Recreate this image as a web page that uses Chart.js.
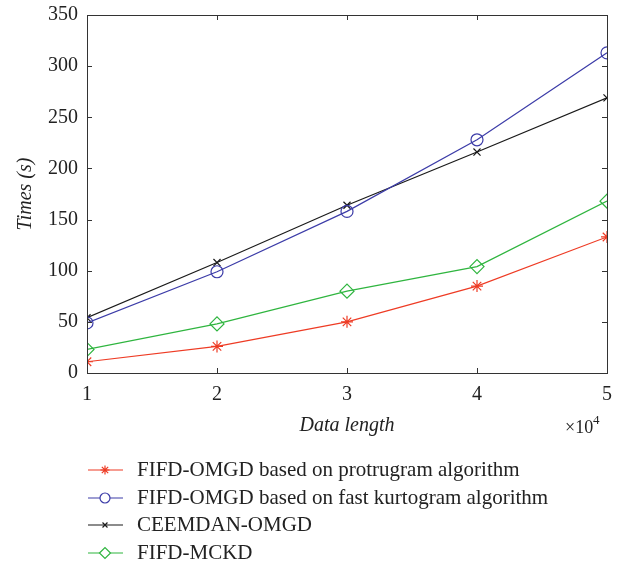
<!DOCTYPE html>
<html>
<head>
<meta charset="utf-8">
<script src="https://cdn.jsdelivr.net/npm/chart.js@4.4.1/dist/chart.umd.min.js"></script>
<style>
  html, body { margin: 0; padding: 0; background: #fff; }
  #wrap { width: 621px; height: 565px; position: relative; }
</style>
</head>
<body>
<div id="wrap"><canvas id="chartTimes"></canvas></div>
<script>
const dataLength = [1, 2, 3, 4, 5];
const protrugram = [11, 26, 50, 85, 133];
const fastKurtogram = [49, 99, 158, 228, 313];
const ceemdan = [54, 108, 164, 216, 269];
const mckd = [23, 48, 80, 104, 168];
const seriesNames = [
    'FIFD-OMGD based on protrugram algorithm',
    'FIFD-OMGD based on fast kurtogram algorithm',
    'CEEMDAN-OMGD',
    'FIFD-MCKD'
];
const yTicks = [0, 50, 100, 150, 200, 250, 300, 350];

const FONT = '"Liberation Serif", "DejaVu Serif", serif';

function pts(values) {
    return values.map((v, i) => ({ x: dataLength[i], y: v }));
}

const frame = {
    id: 'frame',
    afterDraw(chart) {
        const ctx = chart.ctx;
        const a = chart.chartArea;
        const xs = chart.scales.x, ys = chart.scales.y;
        ctx.save();
        ctx.strokeStyle = '#333';
        ctx.lineWidth = 1;
        ctx.strokeRect(Math.round(a.left) + 0.5, Math.round(a.top) + 0.5,
            Math.round(a.right - a.left), Math.round(a.bottom - a.top));
        ctx.beginPath();
        dataLength.forEach(v => {
            const px = Math.round(xs.getPixelForValue(v)) + 0.5;
            ctx.moveTo(px, a.bottom); ctx.lineTo(px, a.bottom - 5);
            ctx.moveTo(px, a.top); ctx.lineTo(px, a.top + 5);
        });
        yTicks.forEach(v => {
            const py = Math.round(ys.getPixelForValue(v)) + 0.5;
            ctx.moveTo(a.left, py); ctx.lineTo(a.left + 5, py);
            ctx.moveTo(a.right, py); ctx.lineTo(a.right - 5, py);
        });
        ctx.stroke();

        // axis titles
        ctx.fillStyle = '#222';
        ctx.font = 'italic 20px ' + FONT;
        ctx.textAlign = 'center';
        ctx.textBaseline = 'middle';
        ctx.fillText('Data length', (a.left + a.right) / 2, 426);
        ctx.save();
        ctx.translate(26, (a.top + a.bottom) / 2);
        ctx.rotate(-Math.PI / 2);
        ctx.fillText('Times (s)', 0, 0);
        ctx.restore();

        // exponent
        ctx.font = '18px ' + FONT;
        ctx.textAlign = 'left';
        ctx.textBaseline = 'alphabetic';
        ctx.fillText('\u00d710', 565, 433);
        ctx.font = '13px ' + FONT;
        ctx.fillText('4', 593, 424);

        // legend
        const rows = [470, 498, 525, 553];
        chart.data.datasets.forEach((ds, i) => {
            const y = rows[i];
            ctx.strokeStyle = ds.borderColor;
            ctx.fillStyle = '#fff';
            ctx.lineWidth = 1.2;
            ctx.beginPath();
            ctx.moveTo(88, y); ctx.lineTo(123, y);
            ctx.stroke();
            Chart.helpers.drawPoint(ctx, {
                pointStyle: ds.pointStyle,
                radius: ds.legendRadius,
                borderWidth: 1.2
            }, 105, y);
            ctx.fillStyle = '#222';
            ctx.font = '21px ' + FONT;
            ctx.textAlign = 'left';
            ctx.textBaseline = 'middle';
            ctx.fillText(ds.label, 137, y);
        });
        ctx.restore();
    }
};

const ctxTimes = document.getElementById('chartTimes');
new Chart(ctxTimes, {
    type: 'line',
    data: {
        datasets: [{
            label: seriesNames[0],
            data: pts(protrugram),
            borderColor: '#ee3b24',
            pointStyle: 'star',
            pointRadius: 6,
            legendRadius: 4.5
        }, {
            label: seriesNames[1],
            data: pts(fastKurtogram),
            borderColor: '#3c3ca8',
            pointStyle: 'circle',
            pointRadius: 6,
            legendRadius: 5
        }, {
            label: seriesNames[2],
            data: pts(ceemdan),
            borderColor: '#1a1a1a',
            pointStyle: 'crossRot',
            pointRadius: 5,
            legendRadius: 3.5
        }, {
            label: seriesNames[3],
            data: pts(mckd),
            borderColor: '#2fb53f',
            pointStyle: 'rectRot',
            pointRadius: 7,
            legendRadius: 5.5
        }].map(ds => Object.assign(ds, {
            backgroundColor: 'rgba(0,0,0,0)',
            pointBorderColor: ds.borderColor,
            borderWidth: 1.2,
            pointBorderWidth: 1.2,
            tension: 0
        }))
    },
    options: {
        responsive: true,
        maintainAspectRatio: false,
        animation: false,
        layout: { padding: { left: 0, top: 15, right: 14, bottom: 0 } },
        plugins: {
            legend: { display: false },
            tooltip: { enabled: false }
        },
        scales: {
            x: {
                type: 'linear',
                min: 1,
                max: 5,
                grid: { display: false },
                border: { display: false },
                ticks: {
                    stepSize: 1,
                    padding: 2,
                    color: '#222',
                    font: { family: FONT, size: 20 }
                },
                afterFit(scale) {
                    scale.height = 192;
                    scale.paddingLeft = 0;
                    scale.paddingRight = 0;
                }
            },
            y: {
                min: 0,
                max: 350,
                grid: { display: false },
                border: { display: false },
                ticks: {
                    stepSize: 50,
                    padding: 1,
                    color: '#222',
                    font: { family: FONT, size: 20 }
                },
                afterFit(scale) {
                    scale.width = 87;
                    scale.paddingTop = 0;
                    scale.paddingBottom = 0;
                }
            }
        }
    },
    plugins: [frame]
});
</script>
</body>
</html>
